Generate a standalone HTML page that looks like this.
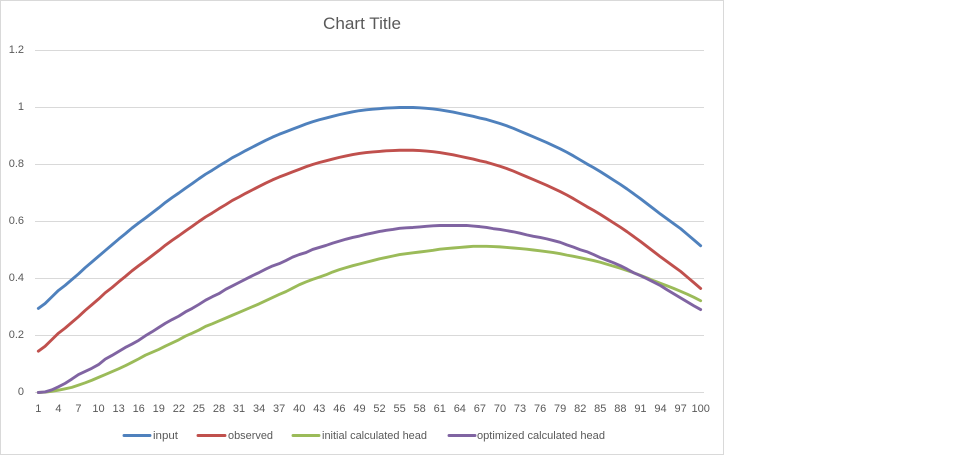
<!DOCTYPE html>
<html lang="en">
<head>
<meta charset="utf-8">
<title>Chart Title</title>
<style>
html,body{margin:0;padding:0;background:#fff;width:975px;height:460px;overflow:hidden}
svg{display:block;position:absolute;left:0;top:0}
text{font-family:"Liberation Sans",sans-serif;fill:#595959}
</style>
</head>
<body>
<svg id="chart" width="975" height="460" viewBox="0 0 975 460" xmlns="http://www.w3.org/2000/svg">
  <rect x="0.5" y="0.5" width="723" height="454" fill="#fff" stroke="#d9d9d9" stroke-width="1"/>
  <text x="362" y="29" font-size="17" text-anchor="middle" textLength="78" lengthAdjust="spacingAndGlyphs">Chart Title</text>
  <g id="grid"></g>
  <g id="yticks"></g>
  <g id="xticks"></g>
  <g id="lines"></g>
  <g>
    <g>
      <line x1="124" y1="435.5" x2="150" y2="435.5" stroke="#4f81bd" stroke-width="2.9" stroke-linecap="round"/>
      <text x="153" y="439" font-size="11" textLength="25" lengthAdjust="spacingAndGlyphs">input</text>
    </g>
    <g>
      <line x1="198" y1="435.5" x2="225" y2="435.5" stroke="#c0504d" stroke-width="2.9" stroke-linecap="round"/>
      <text x="228" y="439" font-size="11" textLength="45" lengthAdjust="spacingAndGlyphs">observed</text>
    </g>
    <g>
      <line x1="293" y1="435.5" x2="319" y2="435.5" stroke="#9bbb59" stroke-width="2.9" stroke-linecap="round"/>
      <text x="322" y="439" font-size="11" textLength="105" lengthAdjust="spacingAndGlyphs">initial calculated head</text>
    </g>
    <g>
      <line x1="449" y1="435.5" x2="475" y2="435.5" stroke="#8064a2" stroke-width="2.9" stroke-linecap="round"/>
      <text x="477" y="439" font-size="11" textLength="128" lengthAdjust="spacingAndGlyphs">optimized calculated head</text>
    </g>
  </g>
</svg>
<script>
const inputValues = [.295,.312,.335,.358,.376,.396,.416,.438,.458,.478,.498,.518,.538,.557,.577,.595,.612,.630,.648,.667,.684,.700,.717,.733,.750,.766,.780,.795,.809,.824,.836,.849,.861,.873,.885,.896,.906,.915,.924,.933,.942,.950,.957,.963,.969,.975,.980,.985,.989,.992,.994,.996,.998,.999,1,1,1,.999,.997,.995,.992,.988,.984,.979,.974,.969,.963,.958,.951,.944,.936,.927,.917,.907,.897,.887,.877,.866,.855,.843,.830,.816,.802,.789,.775,.760,.745,.730,.714,.697,.680,.662,.644,.626,.609,.592,.575,.555,.535,.515];
const observedValues = [.145,.162,.185,.208,.226,.246,.266,.288,.308,.328,.350,.368,.388,.407,.427,.445,.462,.480,.498,.517,.534,.550,.567,.583,.600,.616,.630,.645,.659,.674,.686,.699,.711,.723,.735,.746,.756,.765,.774,.783,.792,.800,.807,.813,.819,.825,.830,.835,.839,.842,.844,.846,.848,.849,.850,.850,.850,.849,.847,.845,.842,.838,.834,.829,.824,.819,.813,.808,.801,.794,.786,.777,.767,.757,.747,.737,.727,.716,.705,.693,.680,.666,.652,.639,.625,.610,.595,.580,.564,.547,.530,.512,.494,.476,.459,.442,.425,.405,.385,.365];
const initialValues = [0,.001,.004,.008,.013,.018,.026,.034,.043,.053,.063,.073,.083,.094,.106,.118,.131,.141,.151,.163,.174,.185,.198,.208,.219,.232,.241,.251,.261,.271,.281,.291,.301,.311,.322,.333,.344,.354,.366,.378,.388,.397,.405,.413,.423,.431,.438,.445,.451,.457,.463,.469,.474,.479,.484,.487,.490,.493,.496,.499,.503,.505,.507,.509,.511,.513,.513,.513,.512,.511,.509,.507,.505,.503,.500,.497,.494,.491,.487,.482,.478,.473,.468,.463,.457,.450,.443,.436,.428,.420,.411,.402,.392,.383,.374,.365,.355,.345,.334,.322];
const optimizedValues = [0,.002,.009,.02,.032,.047,.063,.074,.085,.098,.117,.13,.144,.158,.17,.183,.199,.213,.228,.243,.256,.268,.283,.295,.309,.324,.336,.347,.362,.374,.386,.398,.41,.421,.433,.444,.452,.463,.475,.484,.491,.502,.509,.516,.524,.531,.538,.544,.549,.555,.56,.565,.569,.572,.576,.578,.579,.581,.583,.585,.586,.586,.586,.586,.586,.584,.582,.579,.575,.572,.568,.564,.559,.553,.548,.544,.539,.533,.527,.518,.51,.501,.494,.484,.473,.464,.455,.445,.433,.42,.41,.399,.387,.375,.36,.346,.332,.318,.304,.291];
const yTickValues = [0,0.2,0.4,0.6,0.8,1,1.2];
const xTickLabels = [1,4,7,10,13,16,19,22,25,28,31,34,37,40,43,46,49,52,55,58,61,64,67,70,73,76,79,82,85,88,91,94,97,100];
const seriesList = [
  {name:'input', values:inputValues, color:'#4f81bd'},
  {name:'observed', values:observedValues, color:'#c0504d'},
  {name:'initial-calculated-head', values:initialValues, color:'#9bbb59'},
  {name:'optimized-calculated-head', values:optimizedValues, color:'#8064a2'}
];

const NS = 'http://www.w3.org/2000/svg';
const plotLeft = 35, plotRight = 704, plotBottom = 392.5, unitHeight = 285, categoryCount = 100;
function xScale(cat){ return plotLeft + (cat - 0.5) * (plotRight - plotLeft) / categoryCount; }
function yScale(v){ return plotBottom - v * unitHeight; }

const gridGroup = document.getElementById('grid');
const yGroup = document.getElementById('yticks');
const xGroup = document.getElementById('xticks');
const lineGroup = document.getElementById('lines');

yTickValues.forEach(function(v){
  const gl = document.createElementNS(NS,'line');
  
  
  gl.setAttribute('x1', plotLeft);
  gl.setAttribute('x2', plotRight);
  gl.setAttribute('y1', yScale(v));
  gl.setAttribute('y2', yScale(v));
  gl.setAttribute('stroke', '#d9d9d9');
  gl.setAttribute('stroke-width', '1');
  gridGroup.appendChild(gl);

  const t = document.createElementNS(NS,'text');
  
  
  t.setAttribute('x', 24);
  t.setAttribute('y', yScale(v) + 2.5);
  t.setAttribute('font-size', '11');
  t.setAttribute('text-anchor', 'end');
  t.textContent = String(v);
  yGroup.appendChild(t);
});

xTickLabels.forEach(function(cat){
  const t = document.createElementNS(NS,'text');
  
  
  t.setAttribute('x', xScale(cat));
  t.setAttribute('y', 412);
  t.setAttribute('font-size', '11');
  t.setAttribute('text-anchor', 'middle');
  t.textContent = String(cat);
  xGroup.appendChild(t);
});

seriesList.forEach(function(s){
  const p = document.createElementNS(NS,'polyline');
  
  
  p.setAttribute('points', s.values.map(function(v,i){
    return xScale(i + 1).toFixed(2) + ',' + yScale(v).toFixed(2);
  }).join(' '));
  p.setAttribute('fill', 'none');
  p.setAttribute('stroke', s.color);
  p.setAttribute('stroke-width', '2.9');
  p.setAttribute('stroke-linejoin', 'round');
  p.setAttribute('stroke-linecap', 'round');
  lineGroup.appendChild(p);
});
</script>
</body>
</html>
